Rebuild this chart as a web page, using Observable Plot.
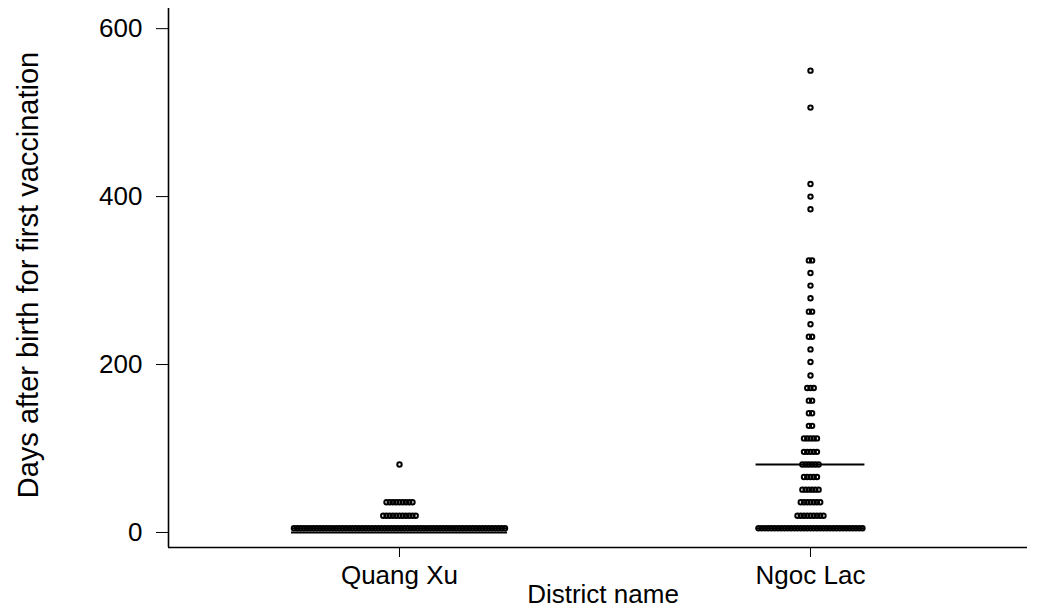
<!DOCTYPE html>
<html>
<head>
<meta charset="utf-8">
<script src="https://cdn.jsdelivr.net/npm/d3@7"></script>
<script src="https://cdn.jsdelivr.net/npm/@observablehq/plot@0.6"></script>
<style>
  html, body { margin: 0; padding: 0; background: #fff; }
</style>
</head>
<body>
<div id="chart"></div>
<script>
// Categories
const districts = ["Quang Xu", "Ngoc Lac"];

// Dot rows (binned days after birth) and number of children in each row
const quangXuDays   = [5, 20, 36, 81];
const quangXuCounts = [66, 11, 9, 1];

const ngocLacDays   = [5, 20, 36, 51, 66, 81, 96, 112, 127, 142, 157, 172, 187, 203, 218, 233, 248, 263, 279, 294, 309, 324, 385, 400, 415, 506, 550];
const ngocLacCounts = [33, 9, 7, 6, 5, 6, 5, 5, 2, 2, 2, 3, 1, 1, 1, 2, 1, 2, 1, 1, 1, 2, 1, 1, 1, 1, 1];

// Horizontal summary bars
const quangXuBars = [0, 5];
const ngocLacBars = [5, 81];

// Axis ticks
const yTicks = [0, 200, 400, 600];
const xTicks = [1, 2];

// ---- build marks data from the arrays ----
const groups = [
  {name: districts[0], days: quangXuDays, counts: quangXuCounts, bars: quangXuBars},
  {name: districts[1], days: ngocLacDays, counts: ngocLacCounts, bars: ngocLacBars}
];
const step = 0.0079;      // horizontal spacing between side-by-side dots (x units)
const halfDot = 0.006;    // dot half-width in x units

const dots = [];
const bars = [];
groups.forEach((g, gi) => {
  const center = gi + 1;
  g.days.forEach((d, j) => {
    const n = g.counts[j];
    for (let k = 0; k < n; k++) {
      dots.push({x: center + (k - (n - 1) / 2) * step, y: d});
    }
  });
  const maxN = d3.max(g.counts);
  const half = (maxN - 1) / 2 * step + halfDot;
  g.bars.forEach(b => bars.push({x1: center - half, x2: center + half, y: b}));
});

const xDomain = [0.438, 2.528];
const yDomain = [-17.9, 624];

const chart = Plot.plot({
  width: 1037,
  height: 610,
  marginTop: 8,
  marginRight: 10,
  marginBottom: 63,
  marginLeft: 168,
  style: {
    background: "#fff",
    color: "#000",
    fontFamily: "'Liberation Sans', Arial, Helvetica, sans-serif",
    fontSize: "26px"
  },
  x: {
    type: "linear",
    domain: xDomain,
    ticks: xTicks,
    tickFormat: d => districts[Math.round(d) - 1],
    tickSize: 10,
    tickPadding: 8,
    label: null
  },
  y: {
    domain: yDomain,
    ticks: yTicks,
    tickSize: 12,
    tickPadding: 14,
    label: null
  },
  marks: [
    Plot.ruleX([xDomain[0]], {stroke: "#000", strokeWidth: 1.6}),
    Plot.ruleY([yDomain[0]], {stroke: "#000", strokeWidth: 1.6}),
    Plot.ruleY(bars, {x1: "x1", x2: "x2", y: "y", stroke: "#000", strokeWidth: 2}),
    Plot.dot(dots, {x: "x", y: "y", r: 2.2, stroke: "#000", strokeWidth: 2, fill: "none"}),
    Plot.text(["District name"], {frameAnchor: "bottom", dy: 47, dx: 5, lineAnchor: "middle", textAnchor: "middle", fontSize: 26, fill: "#000"}),
    Plot.text(["Days after birth for first vaccination"], {frameAnchor: "left", dx: -140, dy: -3, rotate: -90, lineAnchor: "middle", textAnchor: "middle", fontSize: 29, fill: "#000"})
  ]
});

document.getElementById("chart").appendChild(chart);
</script>
</body>
</html>
